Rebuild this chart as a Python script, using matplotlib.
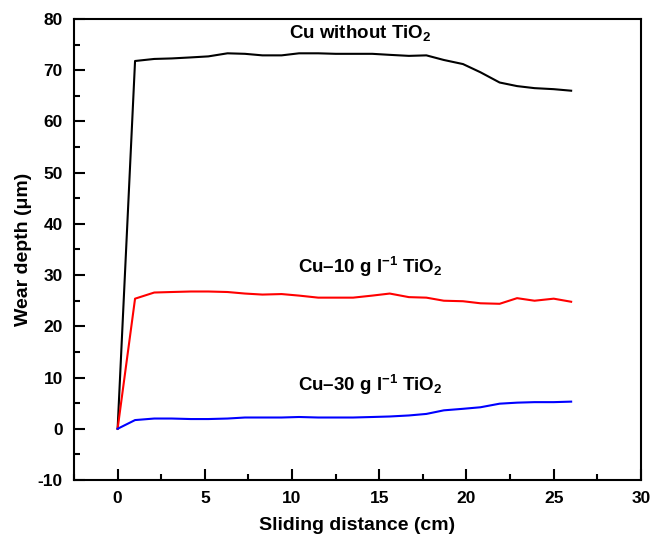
import numpy as np
import matplotlib
matplotlib.use("Agg")
import matplotlib.pyplot as plt
from matplotlib.ticker import MultipleLocator

plt.rcParams['font.family'] = ['Liberation Sans', 'DejaVu Sans']
plt.rcParams['axes.unicode_minus'] = False
plt.rcParams['mathtext.fontset'] = 'custom'
plt.rcParams['mathtext.rm'] = 'Liberation Sans:bold'
plt.rcParams['mathtext.bf'] = 'Liberation Sans:bold'
plt.rcParams['mathtext.it'] = 'Liberation Sans:bold'

# sliding distance (cm)
distance = [0.0, 1.0, 2.1, 3.1, 4.2, 5.2, 6.3, 7.3, 8.3, 9.4, 10.4, 11.5, 12.5,
            13.5, 14.6, 15.6, 16.7, 17.7, 18.7, 19.8, 20.8, 21.9, 22.9, 23.9,
            25.0, 26.0]

# wear depth (um)
cu_plain = [0.0, 71.8, 72.2, 72.3, 72.5, 72.7, 73.3, 73.2, 72.9, 72.9, 73.3,
            73.3, 73.2, 73.2, 73.2, 73.0, 72.8, 72.9, 72.0, 71.2, 69.6, 67.6,
            66.9, 66.5, 66.3, 66.0]
cu_10 = [0.0, 25.4, 26.6, 26.7, 26.8, 26.8, 26.7, 26.4, 26.2, 26.3, 26.0,
         25.6, 25.6, 25.6, 26.0, 26.4, 25.7, 25.6, 25.0, 24.9, 24.5, 24.4,
         25.5, 25.0, 25.4, 24.8]
cu_30 = [0.0, 1.7, 2.0, 2.0, 1.9, 1.9, 2.0, 2.2, 2.2, 2.2, 2.3, 2.2, 2.2,
         2.2, 2.3, 2.4, 2.6, 2.9, 3.6, 3.9, 4.2, 4.9, 5.1, 5.2, 5.2, 5.3]

labels = ["Cu without TiO$_2$",
          "Cu\u201310 g l$^{\u22121}$ TiO$_2$",
          "Cu\u201330 g l$^{\u22121}$ TiO$_2$"]

fig = plt.figure(figsize=(6.52, 5.38), dpi=100)
ax = fig.add_axes([0.1135, 0.1078, 0.8695, 0.8569])

ax.plot(distance, cu_plain, color='black', lw=1.5)
ax.plot(distance, cu_10, color='#ff0000', lw=1.5)
ax.plot(distance, cu_30, color='#0000ff', lw=1.5)

ax.text(13.9, 77.3, labels[0], ha='center', va='center', fontsize=13.5, fontweight='bold')
ax.text(14.5, 31.6, labels[1], ha='center', va='center', fontsize=13.5, fontweight='bold')
ax.text(14.5, 8.6, labels[2], ha='center', va='center', fontsize=13.5, fontweight='bold')

ax.set_xlim(-2.5, 30)
ax.set_ylim(-10, 80)
ax.xaxis.set_major_locator(MultipleLocator(5))
ax.xaxis.set_minor_locator(MultipleLocator(2.5))
ax.yaxis.set_major_locator(MultipleLocator(10))
ax.yaxis.set_minor_locator(MultipleLocator(5))
ax.tick_params(which='both', direction='in', top=False, right=False,
               width=1.5, labelsize=12.5, pad=8)
ax.tick_params(which='major', length=8)
ax.tick_params(which='minor', length=4)
for lab in ax.get_xticklabels() + ax.get_yticklabels():
    lab.set_fontweight('bold')
for sp in ax.spines.values():
    sp.set_linewidth(1.5)

ax.set_xlabel("Sliding distance (cm)", fontsize=14, fontweight='bold', labelpad=8)
ax.set_ylabel("Wear depth (\u03bcm)", fontsize=14, fontweight='bold', labelpad=4)

fig.savefig("out.png", dpi=100)
